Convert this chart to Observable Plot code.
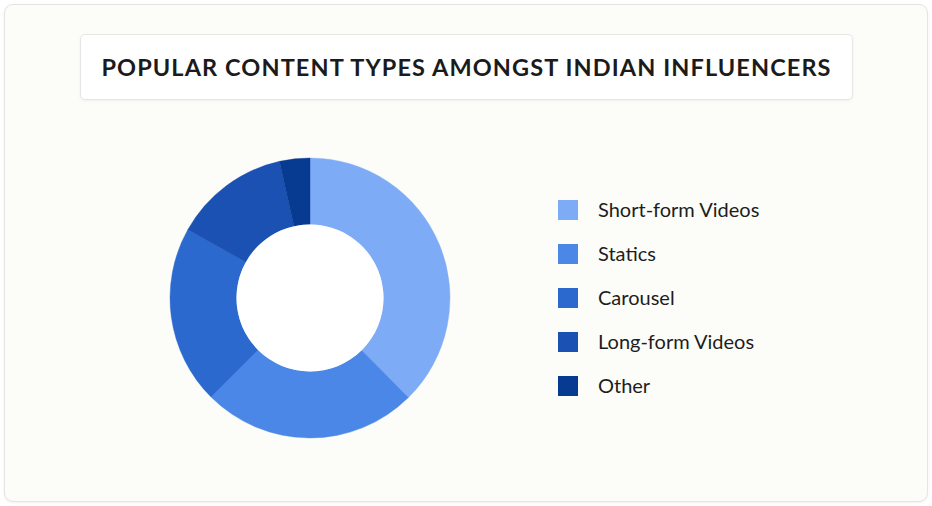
<!DOCTYPE html>
<html>
<head>
<meta charset="utf-8">
<script src="https://cdn.jsdelivr.net/npm/d3@7"></script>
<script src="https://cdn.jsdelivr.net/npm/@observablehq/plot@0.6"></script>
<style>
  html, body { margin: 0; padding: 0; background: #ffffff; width: 932px; height: 506px; overflow: hidden; }
  body { position: relative; font-family: Lato, "Noto Sans", sans-serif; }
  #card {
    position: absolute; left: 4px; top: 4px; width: 924px; height: 498px;
    box-sizing: border-box; background: #fcfdf8; border: 1px solid #e4e4e2;
    border-radius: 9px; box-shadow: 0 1px 3px rgba(0,0,0,0.06);
  }
  #title {
    position: absolute; left: 80px; top: 34px; width: 773px; height: 66px;
    box-sizing: border-box; background: #ffffff; border: 1px solid #e6e6e4;
    border-radius: 5px; box-shadow: 0 1px 3px rgba(0,0,0,0.05);
    display: flex; align-items: center; justify-content: center;
    font-weight: 700; font-size: 23.5px; color: #1b1b1b; letter-spacing: 1.1px;
  }
  #chart { position: absolute; left: 160px; top: 148px; }
  #legend { position: absolute; left: 558px; top: 188px; }
  .row { position: relative; height: 44px; width: 280px; }
  .sw { position: absolute; left: 0; top: 12px; width: 20px; height: 20px; }
  .lb { position: absolute; left: 40px; top: 8px; font-size: 20px; color: #1d1d1d; line-height: 26px; white-space: nowrap; }
</style>
</head>
<body>
<div id="card"></div>
<div id="title"></div>
<div id="chart"></div>
<div id="legend"></div>
<script>
const titleText = "POPULAR CONTENT TYPES AMONGST INDIAN INFLUENCERS";
const names = ["Short-form Videos", "Statics", "Carousel", "Long-form Videos", "Other"];
const shares = [37.6, 24.9, 20.6, 13.4, 3.5];
const colors = ["#7eabf5", "#4a87e6", "#2b69cf", "#1b51b3", "#073a91"];

const slices = names.map((name, i) => ({name, share: shares[i]}));
const holeRatio = 0.525;

document.getElementById("title").textContent = titleText;

const donut = (index, scales, values, dimensions, context) => {
  const {x, y, color} = scales;
  const cx = x(0), cy = y(0), R = Math.abs(x(1) - x(0));
  const arcs = d3.pie().sort(null).value(d => d.share)(slices);
  const arc = d3.arc().outerRadius(R).innerRadius(R * holeRatio);
  const g = d3.create("svg:g").attr("transform", `translate(${cx},${cy})`);
  g.selectAll("path").data(arcs).join("path")
    .attr("d", arc)
    .attr("fill", d => color(d.data.name))
    .attr("stroke", d => color(d.data.name))
    .attr("stroke-width", 0.4);
  g.append("circle").attr("r", R * holeRatio).attr("fill", "#ffffff");
  return g.node();
};

const plot = Plot.plot({
  width: 300,
  height: 300,
  margin: 10,
  style: {background: "transparent", overflow: "visible"},
  x: {domain: [-1, 1], axis: null},
  y: {domain: [-1, 1], axis: null},
  color: {domain: names, range: colors},
  marks: [
    Plot.dot(slices, {x: () => 0, y: () => 0, fill: "name", r: 0}),
    donut
  ]
});
document.getElementById("chart").appendChild(plot);

const colorScale = plot.scale("color");
const legend = d3.select("#legend");
const rows = legend.selectAll("div.row").data(names).join("div").attr("class", "row");
rows.append("div").attr("class", "sw").style("background", d => colorScale.apply(d));
rows.append("div").attr("class", "lb").text(d => d);
</script>
</body>
</html>
